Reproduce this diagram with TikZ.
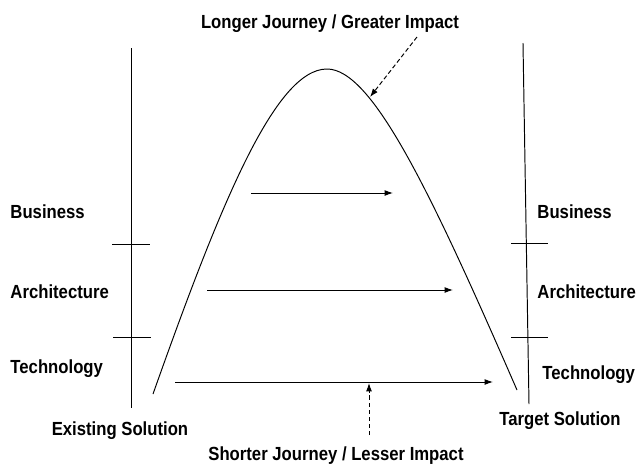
\documentclass[tikz,border=0pt]{standalone}
\usepackage{fontspec}
\setmainfont[FakeStretch=0.88]{Liberation Sans}
\usetikzlibrary{arrows.meta}

\begin{document}
\begin{tikzpicture}[x=0.02cm,y=-0.02cm,>={Latex[length=4.8pt,width=3.4pt]},
  line width=0.55pt,
  lbl/.style={font=\bfseries\fontsize{10.8}{12}\selectfont,inner sep=0pt},
  side/.style={lbl,anchor=base west},
  hint/.style={->,dashed,dash pattern=on 2.5pt off 1.5pt}]
\useasboundingbox (0,0) rectangle (637,464);

% the two solution axes with their layer ticks
\coordinate (ltop) at (131,48);  \coordinate (lbot) at (131,408);
\coordinate (rtop) at (523,43);  \coordinate (rbot) at (529,404);
\draw (ltop) -- (lbot);
\draw (rtop) -- (rbot);
\draw (112,244) -- (150,244);
\draw (113,337) -- (151,337);
\draw (511,243) -- (548,243);
\draw (511,337) -- (548,337);

% layer labels
\node[side] (lbus)  at (10,218) {Business};
\node[side] (larch) at (10,298) {Architecture};
\node[side] (ltech) at (10,373) {Technology};
\node[side] (rbus)  at (537,218) {Business};
\node[side] (rarch) at (537,298) {Architecture};
\node[side] (rtech) at (542,379) {Technology};
\node[lbl,anchor=base] (exist)  at (120,435) {Existing Solution};
\node[lbl,anchor=base] (target) at (560,425) {Target Solution};

% long route over the hill
\coordinate (hstart) at (153,394);
\coordinate (hpeak)  at (327,69);
\coordinate (hend)   at (517,390);
\draw (hstart) .. controls (220,205) and (275,69) .. (hpeak)
      .. controls (372,69) and (430,190) .. (hend);

% direct routes
\coordinate (a1) at (251,193); \coordinate (b1) at (393,193);
\coordinate (a2) at (207,290); \coordinate (b2) at (453,290);
\coordinate (a3) at (175,382); \coordinate (b3) at (493,382);
\draw[->] (a1) -- (b1);
\draw[->] (a2) -- (b2);
\draw[->] (a3) -- (b3);

% captions
\node[lbl,anchor=base] (long)  at (330,28) {Longer Journey / Greater Impact};
\node[lbl,anchor=base] (short) at (336,460) {Shorter Journey / Lesser Impact};
\coordinate (ltail) at (417,37);  \coordinate (lhead) at (370,97);
\coordinate (stail) at (369,435); \coordinate (shead) at (369,383);
\draw[hint] (ltail) -- (lhead);
\draw[hint] (stail) -- (shead);
\end{tikzpicture}
\end{document}
